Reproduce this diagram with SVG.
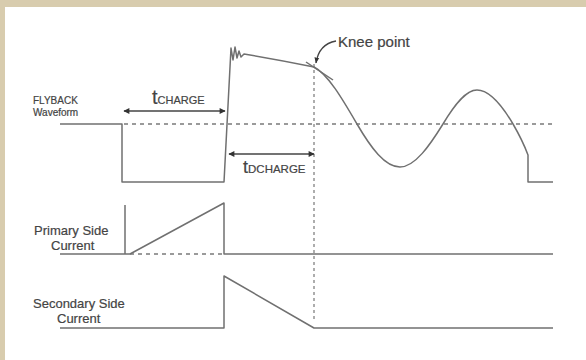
<svg xmlns="http://www.w3.org/2000/svg" width="586" height="360" viewBox="0 0 586 360">
<defs>
<marker id="ah" viewBox="0 0 10 10" refX="9" refY="5" markerWidth="8" markerHeight="6" orient="auto-start-reverse" markerUnits="userSpaceOnUse">
<path d="M0,0 L10,5 L0,10 z" fill="#333"/>
</marker>
<marker id="ah2" viewBox="0 0 10 10" refX="9" refY="5" markerWidth="6" markerHeight="6" orient="auto" markerUnits="userSpaceOnUse">
<path d="M0,1 L10,5 L0,9 z" fill="#333"/>
</marker>
</defs>
<style>
.w{fill:none;stroke:#707070;stroke-width:1.5;stroke-linejoin:round}
.dash{fill:none;stroke:#7a7a7a;stroke-width:1.3;stroke-dasharray:4 4}
.dot{fill:none;stroke:#777;stroke-width:1.2;stroke-dasharray:3 3}
.lbl{font-family:"Liberation Sans",Arial,sans-serif;fill:#444;stroke:#444;stroke-width:0.2}
.arr{fill:none;stroke:#444;stroke-width:1.3}
</style>
<rect x="0" y="0" width="586" height="360" fill="#d8ccae"/>
<rect x="5" y="7" width="581" height="353" fill="#ffffff"/>

<g id="reference-lines">
<path class="dash" d="M124,124 H553"/>
<path class="dash" d="M130,254 H224"/>
<path class="dot" d="M314,64 V320"/>
</g>

<g id="flyback-waveform">
<path class="w" d="M60,124 H122 V182 H224 L231,48 L233,60 L235,47 L237,58 L239,51 L241,57 L244,54 Q280,60 314,67 C328,74 343,100 357,124 C371,148 385,167 400,167 C415,167 430,145 443,124 C455,104 466,90 477,90 C490,90 503,107 513,124 C520,136 525,147 528,155 V182 H553"/>
<path class="w" d="M306,62 L333,80" stroke-width="1"/>
</g>

<g id="primary-current">
<path class="w" d="M60,254 H122 M125,254 V205 M130,254 L224,203 V254 H553 M122,254 H130"/>
</g>

<g id="secondary-current">
<path class="w" d="M60,328 H224 V276 L314,328 H553"/>
</g>

<g id="connectors">
<path class="arr" d="M124,111 H225" marker-start="url(#ah)" marker-end="url(#ah)"/>
<path class="arr" d="M229,154 H314" marker-start="url(#ah)" marker-end="url(#ah)"/>
<path class="arr" d="M336,41 C325,43 318,50 316,63" stroke-width="1.2" marker-end="url(#ah2)"/>
</g>

<g id="labels">
<text class="lbl" x="33" y="104" font-size="10">FLYBACK</text>
<text class="lbl" x="33" y="116" font-size="10">Waveform</text>
<text class="lbl" x="152" y="104" font-size="20">t<tspan font-size="11">CHARGE</tspan></text>
<text class="lbl" x="243" y="173" font-size="18">t<tspan font-size="11.5">DCHARGE</tspan></text>
<text class="lbl" x="338" y="47" font-size="15">Knee point</text>
<text class="lbl" x="34" y="235" font-size="13">Primary Side</text>
<text class="lbl" x="51" y="250" font-size="13">Current</text>
<text class="lbl" x="33" y="308" font-size="13">Secondary Side</text>
<text class="lbl" x="57" y="323" font-size="13">Current</text>
</g>
</svg>
